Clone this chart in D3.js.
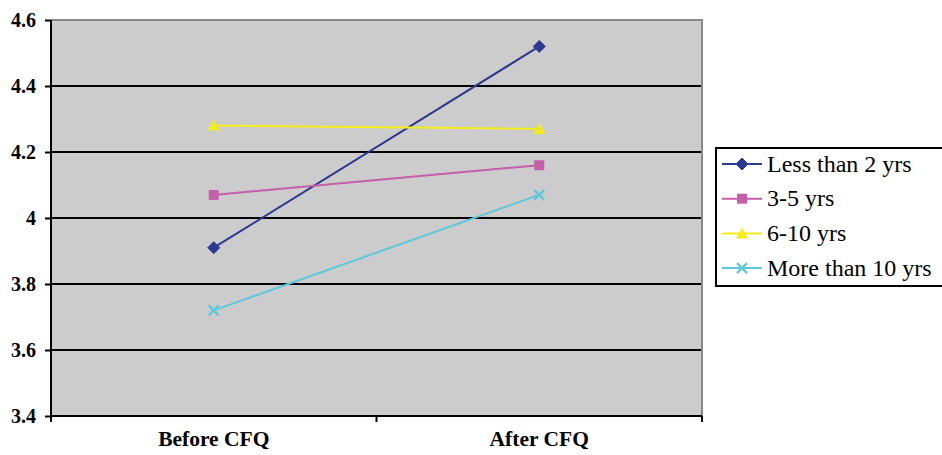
<!DOCTYPE html>
<html>
<head>
<meta charset="utf-8">
<script src="https://cdn.jsdelivr.net/npm/d3@7"></script>
<style>
  html, body { margin: 0; padding: 0; background: #fff; }
  svg { display: block; }
</style>
</head>
<body>
<svg id="chart" width="942" height="455" font-family="Liberation Serif, DejaVu Serif, serif"></svg>
<script>
// Mean scores by teaching experience, before and after CFQ
const categories = ["Before CFQ", "After CFQ"];
const seriesNames = ["Less than 2 yrs", "3-5 yrs", "6-10 yrs", "More than 10 yrs"];
const lessThan2 = [3.91, 4.52];
const threeToFive = [4.07, 4.16];
const sixToTen = [4.28, 4.27];
const moreThan10 = [3.72, 4.07];
const yTicks = [3.4, 3.6, 3.8, 4, 4.2, 4.4, 4.6];

const seriesValues = [lessThan2, threeToFive, sixToTen, moreThan10];
const colors = ["#2b3990", "#c45fa8", "#f2ee1d", "#5cc8da"];
const symbols = ["diamond", "square", "triangle", "cross"];
const SERIF = "Liberation Serif";

const svg = d3.select("#chart");
const plot = { left: 51, right: 702, top: 20, bottom: 416 };

const x = d3.scaleBand().domain(categories).range([plot.left, plot.right]);
const y = d3.scaleLinear().domain([3.4, 4.6]).range([plot.bottom, plot.top]);

// plot background
svg.append("rect")
  .attr("x", plot.left).attr("y", plot.top)
  .attr("width", plot.right - plot.left).attr("height", plot.bottom - plot.top)
  .attr("fill", "#cccccc");

// horizontal gridlines
svg.append("g").selectAll("line")
  .data(yTicks.filter(t => t > 3.4 && t < 4.6))
  .join("line")
  .attr("x1", plot.left).attr("x2", plot.right)
  .attr("y1", d => y(d)).attr("y2", d => y(d))
  .attr("stroke", "#000").attr("stroke-width", 2);

// gray frame on top and right
svg.append("path")
  .attr("d", `M${plot.left},${plot.top}H${plot.right}V${plot.bottom}`)
  .attr("fill", "none").attr("stroke", "#888").attr("stroke-width", 2);

// y axis
const yAxis = svg.append("g")
  .attr("transform", `translate(${plot.left},0)`)
  .call(d3.axisLeft(y).tickValues(yTicks).tickSize(6).tickPadding(9)
    .tickFormat(d => d3.format("")(+d.toFixed(1))));
yAxis.attr("font-family", SERIF);
yAxis.select(".domain").attr("stroke", "#000").attr("stroke-width", 2)
  .attr("d", `M0,${plot.top}V${plot.bottom + 5}`);
yAxis.selectAll(".tick line").attr("stroke", "#000").attr("stroke-width", 2);
yAxis.selectAll(".tick text")
  .style("font-family", SERIF)
  .attr("font-size", 20).attr("font-weight", "bold").attr("fill", "#000");

// x axis
const xAxis = svg.append("g")
  .attr("transform", `translate(0,${plot.bottom})`)
  .call(d3.axisBottom(x).tickSize(0).tickPadding(15));
xAxis.attr("font-family", SERIF);
xAxis.select(".domain").attr("stroke", "#000").attr("stroke-width", 2)
  .attr("d", `M${plot.left},0H${plot.right}`);
xAxis.selectAll(".tick text")
  .style("font-family", SERIF)
  .attr("font-size", 21.5).attr("font-weight", "bold").attr("fill", "#000");
// category boundary ticks
const boundaries = [plot.left, ...categories.slice(1).map(c => x(c)), plot.right];
xAxis.append("g").selectAll("line").data(boundaries).join("line")
  .attr("x1", d => d).attr("x2", d => d).attr("y1", 0).attr("y2", 6)
  .attr("stroke", "#000").attr("stroke-width", 2);

const cx = c => x(c) + x.bandwidth() / 2;

function drawMarker(g, type, color, px, py) {
  if (type === "diamond") {
    g.append("path").attr("d", `M${px},${py - 6}L${px + 6},${py}L${px},${py + 6}L${px - 6},${py}Z`)
      .attr("fill", color).attr("stroke", color).attr("stroke-width", 1).attr("stroke-linejoin", "round");
  } else if (type === "square") {
    g.append("rect").attr("x", px - 5).attr("y", py - 5).attr("width", 10).attr("height", 10)
      .attr("fill", color);
  } else if (type === "triangle") {
    g.append("path").attr("d", `M${px},${py - 6}L${px + 6},${py + 5}L${px - 6},${py + 5}Z`)
      .attr("fill", color);
  } else {
    g.append("path").attr("d", `M${px - 5},${py - 5}L${px + 5},${py + 5}M${px - 5},${py + 5}L${px + 5},${py - 5}`)
      .attr("stroke", color).attr("stroke-width", 2.2).attr("fill", "none");
  }
}

// series lines and markers
const line = d3.line().x((d, i) => cx(categories[i])).y(d => y(d));
seriesValues.forEach((vals, k) => {
  const g = svg.append("g");
  g.append("path").datum(vals).attr("d", line)
    .attr("fill", "none").attr("stroke", colors[k]).attr("stroke-width", 2);
  vals.forEach((v, i) => drawMarker(g, symbols[k], colors[k], cx(categories[i]), y(v)));
});

// legend
const legend = svg.append("g");
legend.append("rect")
  .attr("x", 716).attr("y", 148).attr("width", 240).attr("height", 138)
  .attr("fill", "#fff").attr("stroke", "#000").attr("stroke-width", 2);
seriesNames.forEach((name, k) => {
  const ly = 164 + k * 34.7;
  legend.append("line").attr("x1", 722).attr("x2", 762).attr("y1", ly).attr("y2", ly)
    .attr("stroke", colors[k]).attr("stroke-width", 2);
  drawMarker(legend, symbols[k], colors[k], 742, ly);
  legend.append("text").attr("x", 767).attr("y", ly + 7.5)
    .attr("font-family", SERIF).style("font-family", SERIF)
    .attr("font-size", 24).attr("fill", "#000").text(name);
});
</script>
</body>
</html>
